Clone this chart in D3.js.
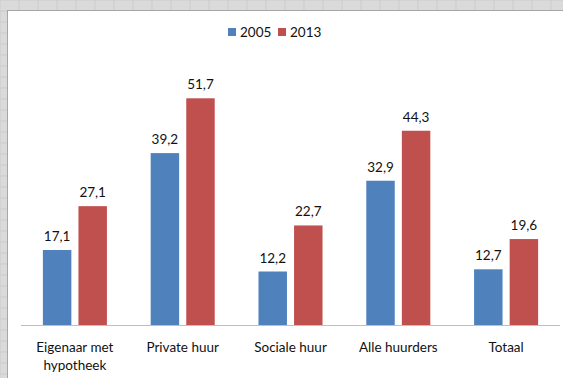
<!DOCTYPE html>
<html>
<head>
<meta charset="utf-8">
<script src="https://cdn.jsdelivr.net/npm/d3@7"></script>
<style>
  body { margin: 0; background: #d9d9d9; }
  svg { display: block; }
  text { font-family: Lato, "Open Sans", sans-serif; fill: #111; }
</style>
</head>
<body>
<svg id="chart" width="563" height="378"></svg>
<script>
var categories = ['Eigenaar met|hypotheek', 'Private huur', 'Sociale huur', 'Alle huurders', 'Totaal']
var series = ['2005', '2013']
var values2005 = [17.1, 39.2, 12.2, 32.9, 12.7]
var values2013 = [27.1, 51.7, 22.7, 44.3, 19.6]
var colors = ['#4f81bd', '#c0504d']

var W = 563, H = 378, fs = 13.5
var svg = d3.select('#chart')

// grey sheet grid behind the chart
var bg = svg.append('g')
bg.append('rect').attr('width', W).attr('height', H).attr('fill', '#dadada')
bg.selectAll('line.v').data(d3.range(0, W, 19)).enter().append('line')
  .attr('x1', function(d) { return d }).attr('x2', function(d) { return d })
  .attr('y1', 0).attr('y2', H).attr('stroke', '#cbcbcb')
bg.selectAll('line.h').data(d3.range(0, H, 11)).enter().append('line')
  .attr('y1', function(d) { return d }).attr('y2', function(d) { return d })
  .attr('x1', 0).attr('x2', W).attr('stroke', '#cbcbcb')
svg.append('rect').attr('x', 7.5).attr('y', 10.5).attr('width', W).attr('height', H)
  .attr('fill', '#fff').attr('stroke', '#a6a6a6')

var base = 325
var x0 = d3.scaleBand().domain(categories).range([21, 560]).paddingInner(0.406).paddingOuter(0.203)
var x1 = d3.scaleBand().domain(series).range([0, x0.bandwidth()]).paddingInner(0.2)
var y = d3.scaleLinear().domain([0, 60]).range([base, base - 60 * 4.385])

var rows = categories.map(function(c, i) {
  return {cat: c, vals: [values2005[i], values2013[i]]}
})

var g = svg.selectAll('g.cat').data(rows).enter().append('g')
  .attr('transform', function(d) { return 'translate(' + x0(d.cat) + ',0)' })

var bars = g.selectAll('g.bar').data(function(d) {
  return d.vals.map(function(v, j) { return {s: series[j], v: v, c: colors[j]} })
}).enter().append('g')

bars.append('rect')
  .attr('x', function(d) { return x1(d.s) })
  .attr('width', x1.bandwidth())
  .attr('y', function(d) { return y(d.v) })
  .attr('height', function(d) { return base - y(d.v) })
  .attr('fill', function(d) { return d.c })

bars.append('text')
  .attr('x', function(d) { return x1(d.s) + x1.bandwidth() / 2 })
  .attr('y', function(d) { return y(d.v) - 9 })
  .attr('text-anchor', 'middle')
  .attr('font-size', fs)
  .text(function(d) { return d3.format('.1f')(d.v).replace('.', ',') })

// baseline
svg.append('line').attr('x1', 21).attr('x2', 560).attr('y1', base + 0.5).attr('y2', base + 0.5)
  .attr('stroke', '#bfbfbf')

// category labels
svg.selectAll('text.cat').data(categories).enter().append('text')
  .attr('class', 'cat')
  .attr('x', function(d) { return x0(d) + x0.bandwidth() / 2 })
  .attr('y', 352)
  .attr('text-anchor', 'middle')
  .attr('font-size', fs)
  .each(function(d) {
    var t = d3.select(this)
    d.split('|').forEach(function(line, k) {
      t.append('tspan').attr('x', t.attr('x')).attr('dy', k ? 18 : 0).text(line)
    })
  })

// legend
var legX = [228, 278]
var leg = svg.selectAll('g.leg').data(series).enter().append('g')
  .attr('transform', function(d, i) { return 'translate(' + legX[i] + ',28)' })
leg.append('rect').attr('width', 8).attr('height', 8)
  .attr('fill', function(d, i) { return colors[i] })
leg.append('text').attr('x', 12).attr('y', 9).attr('font-size', fs).text(function(d) { return d })
</script>
</body>
</html>
